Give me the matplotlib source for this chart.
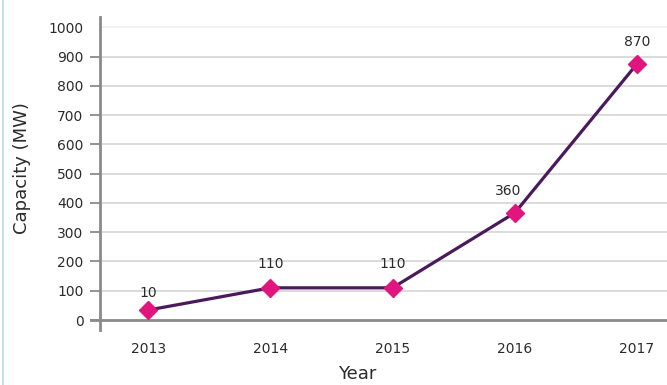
import matplotlib.pyplot as plt
from matplotlib.lines import Line2D

# data
years = ['2013', '2014', '2015', '2016', '2017']
capacity_plotted = [34, 110, 110, 366, 875]      # where the markers sit
capacity_labels = [10, 110, 110, 360, 870]       # values printed above them
y_ticks = [0, 100, 200, 300, 400, 500, 600, 700, 800, 900, 1000]

line_color = '#4a1a5c'
marker_color = '#e0157d'
text_color = '#2b2b2b'

fig = plt.figure(figsize=(6.67, 3.85), dpi=100)
ax = fig.add_axes([0.15, 0.1429, 0.85, 0.813])

x = list(range(len(years)))

# gridlines
for v in y_ticks[1:]:
    ax.axhline(v, color='#f0f0f0' if v == 1000 else '#d9d9d9', lw=1.3, zorder=0)
ax.axhline(0, color='#8a8a8a', lw=2, zorder=1)
ax.plot([-0.47, -0.393], [0, 0], color='#8a8a8a', lw=2, clip_on=False)

ax.plot(x, capacity_plotted, color=line_color, lw=2.3, zorder=2)
ax.plot(x, capacity_plotted, linestyle='none', marker='D', markersize=9.5,
        color=marker_color, zorder=3)

# data labels
for i, lab in enumerate(capacity_labels):
    dx = -7 if i == 3 else 0
    ax.annotate(str(lab), xy=(i, lab), xytext=(dx * 0.72, 17), textcoords='offset points',
                ha='center', va='center', fontsize=10, color=text_color)

ax.set_xlim(-0.393, 4.245)
ax.set_ylim(-34, 1035)
ax.set_xticks(x)
ax.set_xticklabels(years)
ax.set_yticks(y_ticks)
ax.tick_params(axis='x', length=0, pad=9, labelsize=10, colors=text_color)
ax.tick_params(axis='y', length=7, width=1.3, color='#8a8a8a', pad=5,
               labelsize=10, labelcolor=text_color)
ax.yaxis.get_major_ticks()[-1].tick1line.set_visible(False)

for s in ['top', 'right', 'bottom']:
    ax.spines[s].set_visible(False)
ax.spines['left'].set_color('#8a8a8a')
ax.spines['left'].set_linewidth(2)

ax.set_xlabel('Year', fontsize=13, color=text_color)
ax.xaxis.set_label_coords(0.453, -0.113)
ax.set_ylabel('Capacity (MW)', fontsize=13, color=text_color)
ax.yaxis.set_label_coords(-0.122, 0.518)

# thin light-blue border on the left edge
fig.add_artist(Line2D([0.0045, 0.0045], [0, 1], color='#b9dbe6', lw=1.2,
                      transform=fig.transFigure))

fig.savefig('out.png', dpi=100)
